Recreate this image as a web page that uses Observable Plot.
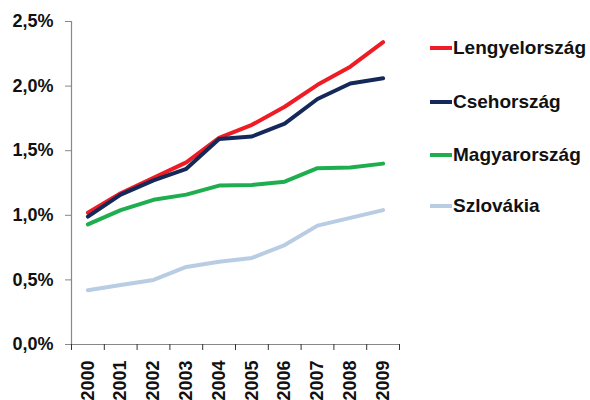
<!DOCTYPE html>
<html>
<head>
<meta charset="utf-8">
<script src="https://cdn.jsdelivr.net/npm/d3@7"></script>
<script src="https://cdn.jsdelivr.net/npm/@observablehq/plot@0.6"></script>
<style>
  html, body { margin: 0; padding: 0; background: #fff; }
  #wrap { position: relative; width: 590px; height: 400px; overflow: hidden; font-family: "Liberation Sans", Arial, sans-serif; }
  #legend { position: absolute; left: 430px; top: 0; }
  .item { position: absolute; left: 0; white-space: nowrap; font-weight: bold; font-size: 19px; color: #111; display: flex; align-items: center; }
  .swatch { width: 22px; height: 4px; margin-right: 1px; }
</style>
</head>
<body>
<div id="wrap"><div id="legend"></div></div>
<script>
const years = [2000, 2001, 2002, 2003, 2004, 2005, 2006, 2007, 2008, 2009];
const seriesNames = ["Lengyelország", "Csehország", "Magyarország", "Szlovákia"];
const seriesColors = ["#ee1c25", "#14285a", "#1fae4f", "#b8cce4"];
const lengyel = [1.02, 1.17, 1.29, 1.41, 1.60, 1.70, 1.84, 2.01, 2.15, 2.34];
const cseh = [0.99, 1.16, 1.27, 1.36, 1.59, 1.61, 1.71, 1.90, 2.02, 2.06];
const magyar = [0.93, 1.04, 1.12, 1.16, 1.23, 1.235, 1.26, 1.365, 1.37, 1.40];
const szlovak = [0.42, 0.46, 0.50, 0.60, 0.64, 0.67, 0.77, 0.92, 0.98, 1.04];
const yTicks = [0, 0.5, 1.0, 1.5, 2.0, 2.5];

const allValues = [lengyel, cseh, magyar, szlovak];
const data = [];
seriesNames.forEach((name, i) => {
  years.forEach((yr, j) => data.push({series: name, year: yr, value: allValues[i][j]}));
});
const boundaries = [years[0] - 0.5, ...years.map(y => y + 0.5)];
const fmt = d => d.toFixed(1).replace(".", ",") + "%";

const chart = Plot.plot({
  width: 590,
  height: 400,
  marginLeft: 71,
  marginRight: 191,
  marginTop: 21,
  marginBottom: 56,
  style: {fontFamily: "Liberation Sans, Arial, sans-serif", fontWeight: "bold", color: "#111", background: "#fff"},
  x: {type: "linear", domain: [years[0] - 0.5, years[years.length - 1] + 0.5]},
  y: {domain: [0, 2.5]},
  color: {domain: seriesNames, range: seriesColors},
  marks: [
    Plot.ruleY([0], {stroke: "#888", strokeWidth: 1.2}),
    Plot.ruleX([boundaries[0]], {stroke: "#888", strokeWidth: 1.2}),
    Plot.axisY({ticks: yTicks, tickFormat: fmt, tickSize: 6, tickPadding: 12, fontSize: 18, stroke: "#888", label: null}),
    Plot.axisX({ticks: boundaries, tickFormat: () => "", tickSize: 6, stroke: "#333", label: null}),
    Plot.axisX({ticks: years, tickFormat: d => String(d), tickSize: 0, tickPadding: 16, tickRotate: -90, fontSize: 18, label: null}),
    Plot.line(data, {x: "year", y: "value", z: "series", stroke: "series", strokeWidth: 4, strokeLinejoin: "round", strokeLinecap: "round"})
  ]
});
document.getElementById("wrap").prepend(chart);

const legendTops = [48, 102, 155, 206];
const legend = document.getElementById("legend");
seriesNames.forEach((name, i) => {
  const item = document.createElement("div");
  item.className = "item";
  item.style.top = (legendTops[i] - 11) + "px";
  item.style.height = "22px";
  const sw = document.createElement("span");
  sw.className = "swatch";
  sw.style.background = seriesColors[i];
  const tx = document.createElement("span");
  tx.textContent = name;
  item.appendChild(sw);
  item.appendChild(tx);
  legend.appendChild(item);
});
</script>
</body>
</html>
